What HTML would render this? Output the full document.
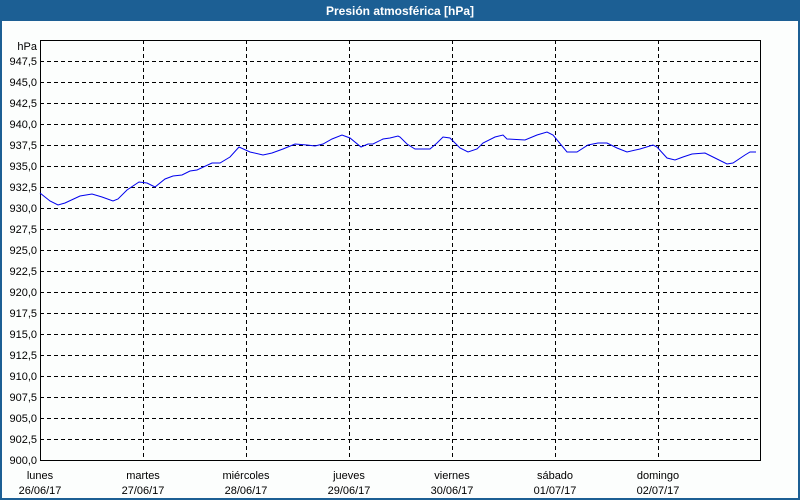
<!DOCTYPE html>
<html><head><meta charset="utf-8"><style>
body{margin:0;width:800px;height:500px;background:#fff;overflow:hidden}
</style></head><body>
<svg width="800" height="500" xmlns="http://www.w3.org/2000/svg" style="display:block;font-family:'Liberation Sans',sans-serif">
<rect x="0" y="0" width="800" height="500" fill="#1c5f94"/>
<rect x="2" y="21" width="796" height="477" fill="#fcfefd"/>
<text x="400" y="15" fill="#fff" font-size="12" font-weight="bold" text-anchor="middle">Presión atmosférica [hPa]</text>
<g stroke="#000" stroke-width="1" stroke-dasharray="4,3" fill="none">
<path d="M40 61.5H760M40 82.5H760M40 103.5H760M40 124.5H760M40 145.5H760M40 166.5H760M40 187.5H760M40 208.5H760M40 229.5H760M40 250.5H760M40 271.5H760M40 292.5H760M40 313.5H760M40 334.5H760M40 355.5H760M40 376.5H760M40 397.5H760M40 418.5H760M40 439.5H760"/>
<path d="M143.5 40V460M246.5 40V460M349.5 40V460M452.5 40V460M555.5 40V460M658.5 40V460"/>
</g>
<rect x="40.5" y="40.5" width="720" height="420" fill="none" stroke="#000" stroke-width="1"/>
<g font-size="11" fill="#000" text-anchor="end">
<text x="37" y="50">hPa</text>
<text x="37" y="65">947,5</text><text x="37" y="86">945,0</text><text x="37" y="107">942,5</text><text x="37" y="128">940,0</text><text x="37" y="149">937,5</text><text x="37" y="170">935,0</text><text x="37" y="191">932,5</text><text x="37" y="212">930,0</text><text x="37" y="233">927,5</text><text x="37" y="254">925,0</text><text x="37" y="275">922,5</text><text x="37" y="296">920,0</text><text x="37" y="317">917,5</text><text x="37" y="338">915,0</text><text x="37" y="359">912,5</text><text x="37" y="380">910,0</text><text x="37" y="401">907,5</text><text x="37" y="422">905,0</text><text x="37" y="443">902,5</text><text x="37" y="464">900,0</text>
</g>
<g font-size="11" fill="#000" text-anchor="middle">
<text x="40" y="479">lunes</text><text x="40" y="494">26/06/17</text>
<text x="143" y="479">martes</text><text x="143" y="494">27/06/17</text>
<text x="246" y="479">miércoles</text><text x="246" y="494">28/06/17</text>
<text x="349" y="479">jueves</text><text x="349" y="494">29/06/17</text>
<text x="452" y="479">viernes</text><text x="452" y="494">30/06/17</text>
<text x="555" y="479">sábado</text><text x="555" y="494">01/07/17</text>
<text x="658" y="479">domingo</text><text x="658" y="494">02/07/17</text>
</g>
<polyline fill="none" stroke="#0000ee" stroke-width="1" points="40,193 50,201 58,205 65,203 80,196 92,194 102,197 113,201 118,199 127,190 139,182 147,183 155,187 165,179 173,176 182,175 190,171 197,170 212,163 220,163 230,157 239,147 250,152 263,155 272,153 283,149 295,144 307,145 315,146 323,144 332,139 342,135 350,138 361,147 368,144 373,144 383,139 390,138 398,136 400,137 407,144 415,149 430,149 437,143 443,137 450,138 460,148 468,152 477,149 483,143 495,137 503,135 507,139 525,140 537,135 547,132 553,135 567,152 577,152 588,145 598,143 607,143 617,148 627,152 640,149 653,145 657,147 667,158 675,160 683,157 692,154 705,153 713,157 727,164 733,163 745,155 750,152 756,152"/>
</svg>
</body></html>
